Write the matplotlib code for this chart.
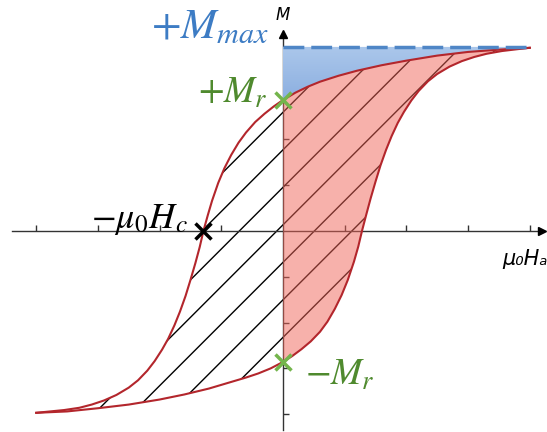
import numpy as np
import matplotlib.pyplot as plt
from matplotlib.patches import Polygon
from matplotlib.colors import LinearSegmentedColormap

plt.rcParams['mathtext.fontset'] = 'stix'

# descending branch (upper)
H_up = [-4.0, -3.55, -3.3, -3.1, -2.9, -2.7, -2.5, -2.35, -2.2, -2.08, -1.96, -1.86,
        -1.76, -1.67, -1.58, -1.5, -1.42, -1.35, -1.29, -1.22, -1.15, -1.05, -0.95,
        -0.84, -0.72, -0.6, -0.45, -0.3, -0.15, 0.0, 0.2, 0.4, 0.6, 0.9, 1.2, 1.6,
        2.0, 2.5, 3.0, 3.5, 4.0]
M_up = [-3.97, -3.91, -3.86, -3.79, -3.7, -3.58, -3.42, -3.26, -3.05, -2.84, -2.59,
        -2.35, -2.06, -1.76, -1.42, -1.07, -0.7, -0.35, 0.0, 0.34, 0.66, 1.05, 1.37,
        1.66, 1.93, 2.15, 2.38, 2.56, 2.72, 2.86, 3.02, 3.15, 3.26, 3.39, 3.5, 3.62,
        3.72, 3.83, 3.91, 3.96, 4.0]

# ascending branch (lower)
H_lo = [-4.0, -3.5, -3.0, -2.5, -2.0, -1.6, -1.2, -0.9, -0.6, -0.4, -0.2, 0.0, 0.15,
        0.3, 0.45, 0.6, 0.72, 0.84, 0.95, 1.05, 1.15, 1.22, 1.28, 1.35, 1.42, 1.5,
        1.58, 1.67, 1.76, 1.86, 1.96, 2.08, 2.2, 2.35, 2.5, 2.7, 2.9, 3.1, 3.3, 3.55,
        3.8, 4.0]
M_lo = [-3.97, -3.94, -3.87, -3.79, -3.68, -3.57, -3.44, -3.32, -3.2, -3.11, -3.0,
        -2.86, -2.73, -2.58, -2.41, -2.2, -1.98, -1.7, -1.4, -1.07, -0.67, -0.34, 0.0,
        0.36, 0.71, 1.08, 1.43, 1.77, 2.07, 2.36, 2.6, 2.85, 3.06, 3.27, 3.43, 3.59,
        3.71, 3.8, 3.87, 3.93, 3.97, 4.0]

M_max = 4.02
M_r = 2.86
H_c = 1.29
ticks = [-4, -3, -2, -1, 1, 2, 3, 4]

H_up = np.array(H_up); M_up = np.array(M_up)
H_lo = np.array(H_lo); M_lo = np.array(M_lo)

red = '#b3262c'
green_txt = '#4f8a2e'
green_mk = '#74b54c'
blue_txt = '#3d7cc4'

fig = plt.figure(figsize=(5.47, 4.32), dpi=100)
ax = fig.add_axes([0, 0, 1, 1])

# axes through the origin
for s in ['top', 'right']:
    ax.spines[s].set_visible(False)
ax.spines['left'].set_position('zero')
ax.spines['bottom'].set_position('zero')
ax.spines['bottom'].set_bounds(-4.39, 4.2)
ax.spines['left'].set_bounds(-4.35, 4.3)
for s in ['left', 'bottom']:
    ax.spines[s].set_color('#333333')
    ax.spines[s].set_linewidth(1.0)
ax.set_xticks(ticks)
ax.set_yticks(ticks)
ax.tick_params(direction='in', length=4, width=1, color='#333333',
               labelbottom=False, labelleft=False)
ax.plot(4.2, 0, marker='>', color='black', ms=6, clip_on=False, zorder=6)
ax.plot(0, 4.3, marker='^', color='black', ms=6, clip_on=False, zorder=6)

# loop outline as clip
loop_xy = np.vstack([np.column_stack([H_up, M_up]),
                     np.column_stack([H_lo[::-1], M_lo[::-1]])])
loop = Polygon(loop_xy, closed=True, facecolor='none', edgecolor='none')
ax.add_patch(loop)

# hatch lines at 45 degrees on screen
k = (61.7 / 45.8)
hh = np.array([-6, 6])
for h0 in np.arange(-0.1 - 0.608 * 12, 5, 0.608):
    ln, = ax.plot(hh, k * (hh - h0), color='black', lw=1.0, zorder=2)
    ln.set_clip_path(loop)

# red area on the right half
r_up = H_up >= 0
r_lo = H_lo >= 0
right_xy = np.vstack([np.column_stack([H_up[r_up], M_up[r_up]]),
                      np.column_stack([H_lo[r_lo][::-1], M_lo[r_lo][::-1]])])
ax.add_patch(Polygon(right_xy, closed=True, facecolor='#f06458', alpha=0.5,
                     edgecolor='none', zorder=3))

# blue area between Mmax and upper branch (soft gradient)
blue_xy = np.vstack([[[0, M_max]], np.column_stack([H_up[r_up], M_up[r_up]]),
                     [[4.0, M_max]]])
blue = Polygon(blue_xy, closed=True, facecolor='none', edgecolor='none')
ax.add_patch(blue)
cmap = LinearSegmentedColormap.from_list('b', ['#8cafe0', '#abc7eb'])
img = ax.imshow(np.linspace(0, 1, 50).reshape(-1, 1), cmap=cmap, origin='lower',
                extent=[0, 4.0, M_r, M_max], aspect='auto', zorder=3)
img.set_clip_path(blue)
ax.plot([0, 4.05], [M_max, M_max], color='#4f86c6', lw=2.5, ls=(0, (6, 2)),
        zorder=5)

ax.plot(H_up, M_up, color=red, lw=1.5, zorder=4)
ax.plot(H_lo, M_lo, color=red, lw=1.5, zorder=4)

ax.plot(-H_c, 0, marker='x', color='black', ms=11, mew=2.5, zorder=7)
ax.plot([0, 0], [M_r, -M_r], ls='none', marker='x', color=green_mk, ms=12,
        mew=2.5, zorder=7)

ax.text(0, 4.6, 'M', fontsize=12, style='italic', ha='center', va='baseline')
ax.text(3.55, -0.75, 'μ₀Hₐ', fontsize=15, style='italic', ha='left', va='baseline')
ax.text(-0.24, 4.21, r'$+M_{max}$', fontsize=31, color=blue_txt, ha='right',
        va='baseline')
ax.text(-0.24, 2.79, r'$+M_r$', fontsize=27, color=green_txt, ha='right',
        va='baseline')
ax.text(0.36, -3.36, r'$-M_r$', fontsize=27, color=green_txt, ha='left',
        va='baseline')
ax.text(-1.54, 0.06, r'$-\mu_0H_c$', fontsize=26, color='black', ha='right',
        va='baseline')

ax.set_xlim(-4.587, 4.279)
ax.set_ylim(-4.389, 5.044)

fig.savefig('out.png', dpi=100)
